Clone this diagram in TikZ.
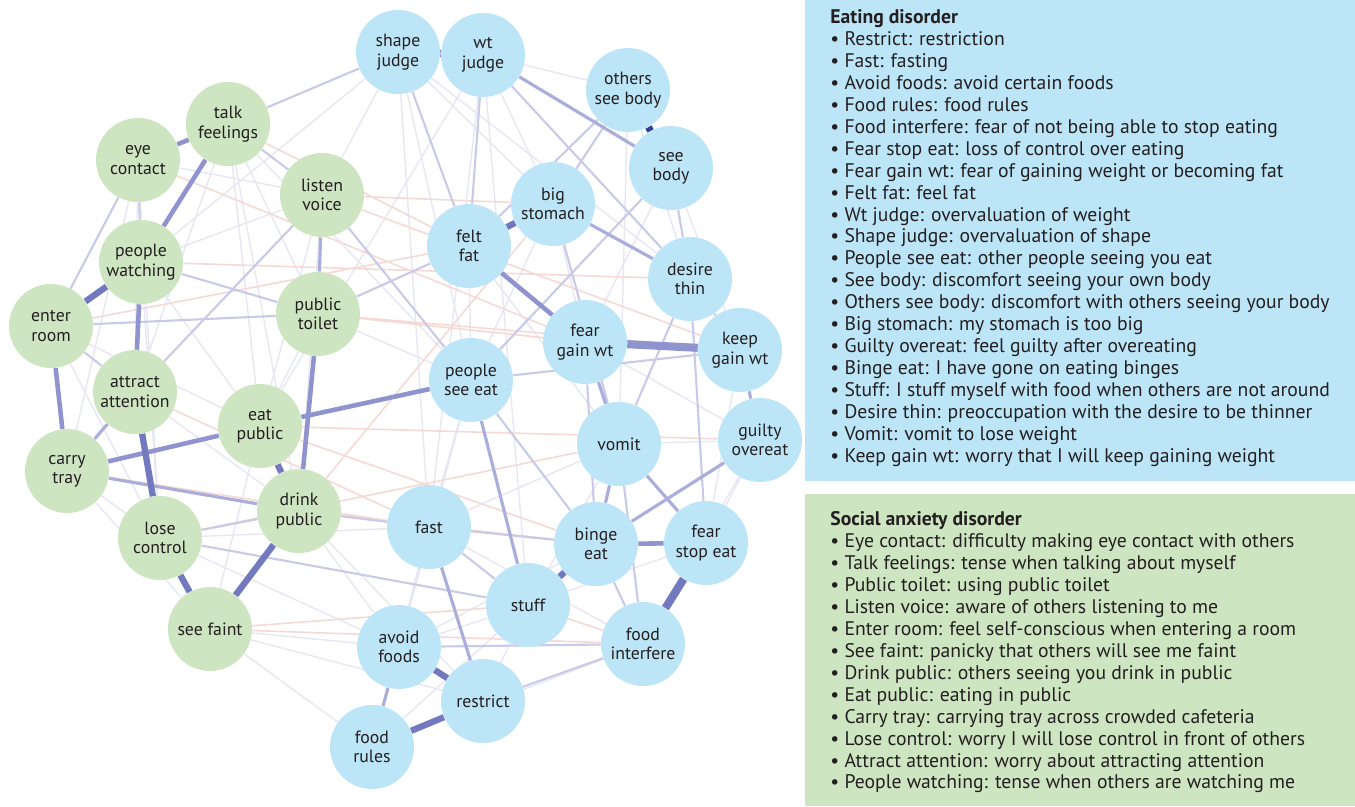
\documentclass[tikz,border=0pt]{standalone}
\usepackage{fontspec}
\setmainfont{PT Sans}
\usetikzlibrary{backgrounds}
\definecolor{edfill}{HTML}{BDE5F8}
\definecolor{sadfill}{HTML}{CEE5C2}
\definecolor{inktext}{HTML}{231F20}
\definecolor{edgefaint}{HTML}{E6E7F3}
\definecolor{edgeweak}{HTML}{C8CAE7}
\definecolor{edgemid}{HTML}{ABAEDB}
\definecolor{edgestrong}{HTML}{8F94CE}
\definecolor{edgeheavy}{HTML}{7379BF}
\definecolor{edgedark}{HTML}{2F409D}
\definecolor{edgeneg}{HTML}{F4D9D5}
\tikzset{
  symptom/.style={circle, minimum size=1.68cm, inner sep=0pt, align=center,
    text=inktext, font=\fontsize{10.1}{11}\selectfont},
  ed/.style={symptom, fill=edfill},
  sad/.style={symptom, fill=sadfill},
  lnfaint/.style={draw=edgefaint, line width=0.8pt},
  lnneg/.style={draw=edgeneg, line width=0.9pt},
  lnweak/.style={draw=edgeweak, line width=1.2pt},
  lnmid/.style={draw=edgemid, line width=1.8pt},
  lnstrong/.style={draw=edgestrong, line width=2.6pt},
  lnheavy/.style={draw=edgeheavy, line width=3.6pt},
  lndark/.style={draw=edgedark, line width=4pt},
  legend/.style={anchor=north west, inner sep=0pt, align=left, text=inktext,
    font=\fontsize{11.2}{12.5}\selectfont}
}
\begin{document}
\begin{tikzpicture}[x=0.02cm, y=-0.02cm]
\useasboundingbox (0,0) rectangle (1355,806);
\fill[edfill] (805,0) rectangle (1355,481);
\fill[sadfill] (805,494) rectangle (1355,806);
\node[legend] at (830, 9) (edlist) {\textbf{Eating disorder}\\
\textbullet\ Restrict: restriction\\
\textbullet\ Fast: fasting\\
\textbullet\ Avoid foods: avoid certain foods\\
\textbullet\ Food rules: food rules\\
\textbullet\ Food interfere: fear of not being able to stop eating\\
\textbullet\ Fear stop eat: loss of control over eating\\
\textbullet\ Fear gain wt: fear of gaining weight or becoming fat\\
\textbullet\ Felt fat: feel fat\\
\textbullet\ Wt judge: overvaluation of weight\\
\textbullet\ Shape judge: overvaluation of shape\\
\textbullet\ People see eat: other people seeing you eat\\
\textbullet\ See body: discomfort seeing your own body\\
\textbullet\ Others see body: discomfort with others seeing your body\\
\textbullet\ Big stomach: my stomach is too big\\
\textbullet\ Guilty overeat: feel guilty after overeating\\
\textbullet\ Binge eat: I have gone on eating binges\\
\textbullet\ Stuff: I stuff myself with food when others are not around\\
\textbullet\ Desire thin: preoccupation with the desire to be thinner\\
\textbullet\ Vomit: vomit to lose weight\\
\textbullet\ Keep gain wt: worry that I will keep gaining weight};
\node[legend] at (830, 511) (sadlist) {\textbf{Social anxiety disorder}\\
\textbullet\ Eye contact: difficulty making eye contact with others\\
\textbullet\ Talk feelings: tense when talking about myself\\
\textbullet\ Public toilet: using public toilet\\
\textbullet\ Listen voice: aware of others listening to me\\
\textbullet\ Enter room: feel self-conscious when entering a room\\
\textbullet\ See faint: panicky that others will see me faint\\
\textbullet\ Drink public: others seeing you drink in public\\
\textbullet\ Eat public: eating in public\\
\textbullet\ Carry tray: carrying tray across crowded cafeteria\\
\textbullet\ Lose control: worry I will lose control in front of others\\
\textbullet\ Attract attention: worry about attracting attention\\
\textbullet\ People watching: tense when others are watching me};
\node[ed] at (398, 52) (shape) {shape\\judge};
\node[ed] at (483, 55) (wt) {wt\\judge};
\node[ed] at (628, 90) (othersbody) {others\\see body};
\node[ed] at (671, 168) (seebody) {see\\body};
\node[ed] at (553, 204) (bigstom) {big\\stomach};
\node[ed] at (469, 246) (feltfat) {felt\\fat};
\node[ed] at (690, 279) (desire) {desire\\thin};
\node[ed] at (585, 342) (feargain) {fear\\gain wt};
\node[ed] at (740, 350) (keepgain) {keep\\gain wt};
\node[ed] at (471, 380) (seeeat) {people\\see eat};
\node[ed] at (619, 444) (vomit) {vomit};
\node[ed] at (760, 440) (guilty) {guilty\\overeat};
\node[ed] at (429, 527) (fast) {fast};
\node[ed] at (596, 544) (binge) {binge\\eat};
\node[ed] at (706, 543) (fearstop) {fear\\stop eat};
\node[ed] at (528, 605) (stuff) {stuff};
\node[ed] at (399, 647) (avoid) {avoid\\foods};
\node[ed] at (643, 644) (interfere) {food\\interfere};
\node[ed] at (483, 701) (restrict) {restrict};
\node[ed] at (372, 747) (rules) {food\\rules};
\node[sad] at (228, 124) (talk) {talk\\feelings};
\node[sad] at (138, 160) (eye) {eye\\contact};
\node[sad] at (322, 195) (listen) {listen\\voice};
\node[sad] at (141, 262) (peoplew) {people\\watching};
\node[sad] at (318, 314) (toilet) {public\\toilet};
\node[sad] at (51, 326) (enter) {enter\\room};
\node[sad] at (135, 392) (attract) {attract\\attention};
\node[sad] at (260, 426) (eatpub) {eat\\public};
\node[sad] at (67, 471) (tray) {carry\\tray};
\node[sad] at (299, 511) (drink) {drink\\public};
\node[sad] at (160, 538) (losectl) {lose\\control};
\node[sad] at (210, 629) (faint) {see faint};
\begin{scope}[on background layer]
\draw[lnfaint] (shape) -- (desire) (shape) -- (seeeat) (shape) -- (fast)
  (shape) -- (listen) (shape) -- (peoplew) (wt) -- (othersbody) (wt) -- (fast)
  (wt) -- (stuff) (wt) -- (eatpub) (talk) -- (toilet) (talk) -- (attract)
  (talk) -- (eatpub) (talk) -- (drink) (eye) -- (attract) (eye) -- (tray)
  (eye) -- (losectl) (peoplew) -- (eatpub) (peoplew) -- (losectl)
  (listen) -- (drink) (listen) -- (eatpub) (toilet) -- (eatpub)
  (toilet) -- (seeeat) (enter) -- (losectl) (enter) -- (eatpub)
  (tray) -- (faint) (faint) -- (rules) (faint) -- (avoid) (faint) -- (restrict)
  (faint) -- (eatpub) (losectl) -- (fast) (losectl) -- (avoid) (drink) -- (avoid)
  (drink) -- (restrict) (fast) -- (avoid) (fast) -- (rules) (avoid) -- (stuff)
  (rules) -- (stuff) (restrict) -- (stuff) (othersbody) -- (desire)
  (othersbody) -- (vomit) (seebody) -- (keepgain) (seebody) -- (feargain)
  (bigstom) -- (seeeat) (bigstom) -- (feargain) (feltfat) -- (seeeat)
  (feltfat) -- (vomit) (feargain) -- (guilty) (keepgain) -- (fearstop)
  (guilty) -- (fearstop) (guilty) -- (interfere) (vomit) -- (stuff)
  (vomit) -- (guilty) (fearstop) -- (stuff) (seeeat) -- (fast)
  (seeeat) -- (avoid) (wt) -- (bigstom) (shape) -- (bigstom) (talk) -- (seeeat)
  (eye) -- (listen) (peoplew) -- (listen) (attract) -- (drink) (tray) -- (losectl)
  (rules) -- (interfere) (avoid) -- (binge) (fast) -- (vomit) (fast) -- (interfere);
\draw[lnneg] (listen) -- (keepgain) (peoplew) -- (desire) (eye) -- (feargain)
  (toilet) -- (feargain) (eatpub) -- (binge) (drink) -- (bigstom) (drink) -- (binge)
  (faint) -- (interfere) (faint) -- (stuff) (talk) -- (feltfat) (tray) -- (fast)
  (listen) -- (bigstom) (eatpub) -- (guilty) (toilet) -- (keepgain)
  (stuff) -- (interfere) (attract) -- (fast) (losectl) -- (vomit) (enter) -- (feltfat);
\draw[lnweak] (eye) -- (peoplew);
\draw[lnweak] (eye) -- (enter);
\draw[lnweak] (talk) -- (listen);
\draw[lnweak] (talk) -- (shape);
\draw[lnweak] (wt) -- (feltfat);
\draw[lnweak] (wt) -- (desire);
\draw[lnweak] (seebody) -- (seeeat);
\draw[lnweak] (seebody) -- (desire);
\draw[lnweak] (othersbody) -- (bigstom);
\draw[lnweak] (othersbody) -- (feltfat);
\draw[lnweak] (attract) -- (listen);
\draw[lnweak] (enter) -- (attract);
\draw[lnweak] (enter) -- (toilet);
\draw[lnweak] (losectl) -- (drink);
\draw[lnweak] (fast) -- (binge);
\draw[lnweak] (seeeat) -- (binge);
\draw[lnweak] (interfere) -- (restrict);
\draw[lnweak] (interfere) -- (avoid);
\draw[lnweak] (binge) -- (interfere);
\draw[lnweak] (vomit) -- (interfere);
\draw[lnweak] (keepgain) -- (seeeat);
\draw[lnweak] (desire) -- (vomit);
\draw[lnweak] (desire) -- (keepgain);
\draw[lnweak] (feltfat) -- (toilet);
\draw[lnweak] (drink) -- (fast);
\draw[lnweak] (losectl) -- (stuff);
\draw[lnweak] (fast) -- (stuff);
\draw[lnweak] (desire) -- (fearstop);
\draw[lnweak] (bigstom) -- (vomit);
\draw[lnweak] (feargain) -- (binge);
\draw[lnweak] (shape) -- (feltfat);
\draw[lnweak] (listen) -- (seeeat);
\draw[lnweak] (peoplew) -- (toilet);
\draw[lnmid] (listen) -- (toilet);
\draw[lnmid] (tray) -- (drink);
\draw[lnmid] (attract) -- (tray);
\draw[lnmid] (seeeat) -- (stuff);
\draw[lnmid] (fast) -- (restrict);
\draw[lnmid] (vomit) -- (binge);
\draw[lnmid] (binge) -- (guilty);
\draw[lnmid] (vomit) -- (fearstop);
\draw[lnmid] (avoid) -- (rules);
\draw[lnmid] (bigstom) -- (desire);
\draw[lnmid] (keepgain) -- (guilty);
\draw[lnmid] (feargain) -- (vomit);
\draw[lnmid] (wt) -- (seebody);
\draw[lnstrong] (binge) -- (fearstop);
\draw[lnstrong] (eye) -- (talk);
\draw[lnstrong] (talk) -- (peoplew);
\draw[lnstrong] (peoplew) -- (attract);
\draw[lnstrong] (feltfat) -- (feargain);
\draw[lnstrong] (enter) -- (tray);
\draw[lnstrong] (toilet) -- (drink);
\draw[lnstrong] (tray) -- (eatpub);
\draw[lnstrong] (eatpub) -- (seeeat);
\draw[lnstrong, line width=4.6pt] (feargain) -- (keepgain);
\draw[lnheavy] (feltfat) -- (bigstom);
\draw[lnheavy] (binge) -- (stuff);
\draw[lnheavy] (avoid) -- (restrict);
\draw[lnheavy, line width=4.6pt] (fearstop) -- (interfere);
\draw[lnheavy] (eatpub) -- (drink);
\draw[lnheavy] (restrict) -- (rules);
\draw[lnheavy] (peoplew) -- (enter);
\draw[lnheavy] (attract) -- (losectl);
\draw[lnheavy] (losectl) -- (faint);
\draw[lnheavy] (drink) -- (faint);
\draw[lndark] (shape) -- (wt);
\draw[lndark] (othersbody) -- (seebody);
\end{scope}
\end{tikzpicture}
\end{document}
